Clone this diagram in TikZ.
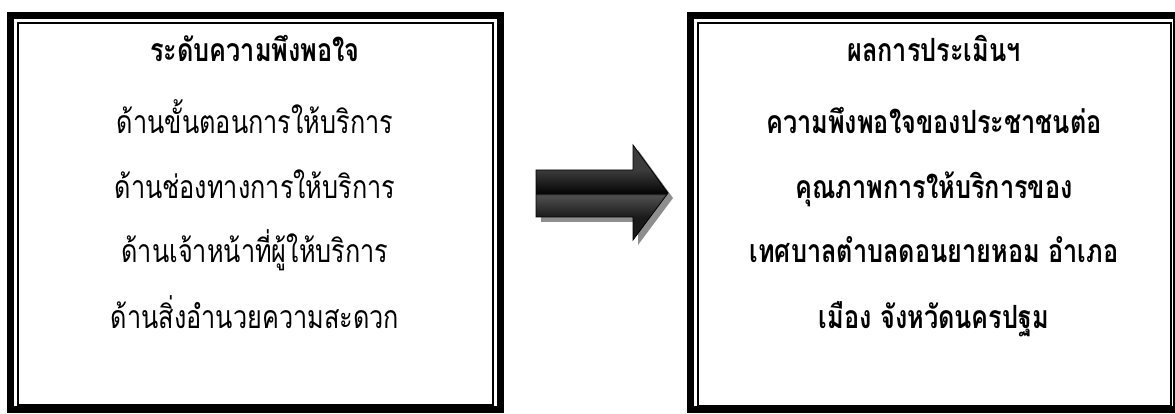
\documentclass[tikz,border=0pt]{standalone}
\usepackage{fontspec}
\newfontfamily\thai[Script=Thai]{Loma}
\definecolor{arrA}{HTML}{1A1A1A}
\definecolor{arrB}{HTML}{505050}
\definecolor{arrC}{HTML}{050505}
\definecolor{arrD}{HTML}{3C3C3C}
\definecolor{shadowgray}{HTML}{8E8E8E}
\pgfdeclareverticalshading{arrowshade}{100bp}{color(0bp)=(arrA); color(25bp)=(arrA); color(37bp)=(arrA); color(48.6bp)=(arrB); color(49.6bp)=(arrC); color(62bp)=(arrD); color(75bp)=(arrD); color(100bp)=(arrD)}
\newcommand{\narrow}[1]{\scalebox{0.79}[1]{#1}}
\begin{document}
\begin{tikzpicture}[x=1pt,y=-1pt,
  thickframe/.style={draw=black,line width=7pt},
  thinframe/.style={draw=black,line width=1.8pt},
  bodytext/.style={anchor=base,inner sep=0pt,font=\thai\fontsize{32}{36}\selectfont},
  boldtext/.style={anchor=base,inner sep=0pt,font=\thai\bfseries\fontsize{32}{36}\selectfont}]
\useasboundingbox (0,0) rectangle (1175,414);
\clip (0,0) rectangle (1175,414);
% left box
\draw[thickframe] (10.2,15.2) rectangle (500.5,409.5);
\draw[thinframe] (17.8,22.8) rectangle (493,405.3);
% right box
\draw[thickframe] (690.2,15.2) rectangle (1176.2,409.5);
\draw[thinframe] (697.8,22.8) rectangle (1171.3,405.8);
% arrow shadow
\fill[shadowgray] (541,175) -- (638,175) -- (638,150) -- (673,198) -- (638,245) -- (638,222) -- (541,222) -- cycle;
% arrow
\shade[shading=arrowshade,draw=black,line width=0.8pt] (536,170) -- (633,170) -- (633,145) -- (668,193) -- (633,240) -- (633,217) -- (536,217) -- cycle;
% left texts
\node[boldtext] (ltitle) at (255,62) {\narrow{ระดับความพึงพอใจ}};
\node[bodytext] (l1) at (255,134) {\narrow{ด้านขั้นตอนการให้บริการ}};
\node[bodytext] (l2) at (255,199) {\narrow{ด้านช่องทางการให้บริการ}};
\node[bodytext] (l3) at (255,262) {\narrow{ด้านเจ้าหน้าที่ผู้ให้บริการ}};
\node[bodytext] (l4) at (255,328) {\narrow{ด้านสิ่งอำนวยความสะดวก}};
% right texts
\node[boldtext] (rtitle) at (934,62) {\narrow{ผลการประเมินฯ}};
\node[boldtext] (r1) at (934,134) {\narrow{ความพึงพอใจของประชาชนต่อ}};
\node[boldtext] (r2) at (934,199) {\narrow{คุณภาพการให้บริการของ}};
\node[boldtext] (r3) at (934,262) {\narrow{เทศบาลตำบลดอนยายหอม อำเภอ}};
\node[boldtext] (r4) at (934,328) {\narrow{เมือง จังหวัดนครปฐม}};
\end{tikzpicture}
\end{document}
